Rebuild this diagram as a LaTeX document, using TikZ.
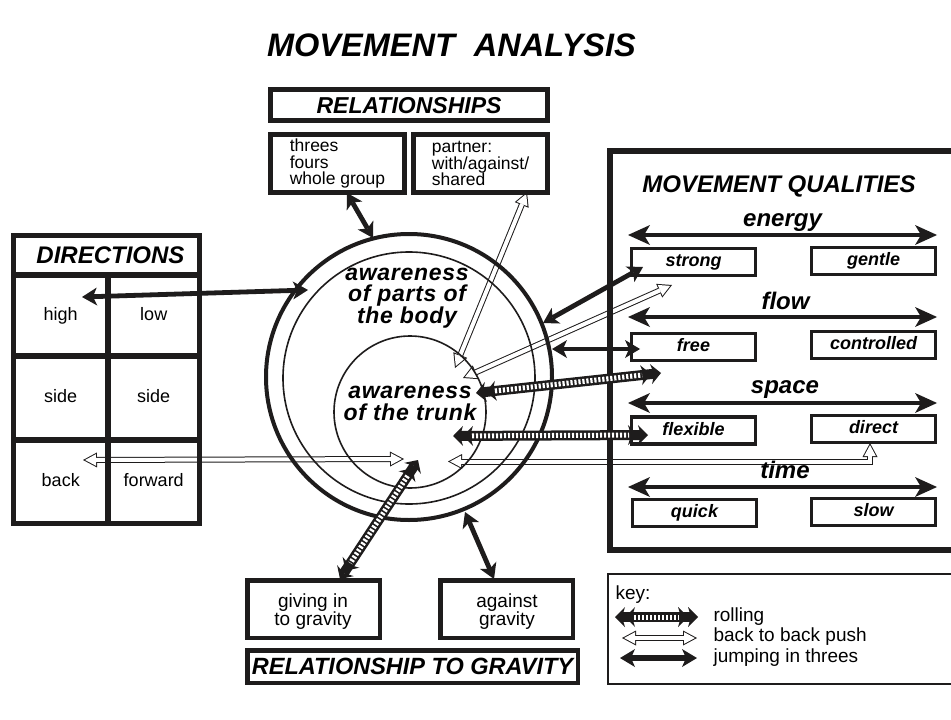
\documentclass[tikz,border=0pt]{standalone}
\usepackage{fontspec}
\setmainfont{Liberation Sans}
\newfontfamily\wideSans[LetterSpace=3]{Liberation Sans}
\usetikzlibrary{arrows.meta}
\pgfdeclarelayer{back}
\pgfsetlayers{back,main}
\definecolor{ink}{RGB}{30,28,28}
\newcommand\fBI[2]{\fontsize{#1}{#2}\selectfont\bfseries\itshape}
\newcommand\fWBI[2]{\wideSans\fontsize{#1}{#2}\selectfont\bfseries\itshape}
\newcommand\fR[2]{\fontsize{#1}{#2}\selectfont}
\tikzset{
  JumpTip/.tip={Stealth[length=15pt,width=18pt,inset=4pt,line width=0pt]},
  AxisTip/.tip={Stealth[length=22pt,width=20pt,inset=6pt,line width=0pt]},
  RollTip/.tip={Stealth[length=10pt,width=20pt,inset=3pt,line width=0pt] Stealth[length=10pt,width=20pt,inset=3pt,line width=0pt]},
  PushOut/.tip={Triangle[length=14pt,width=15pt,line width=0pt]},
  PushIn/.tip={Triangle[length=10.9pt,width=11.7pt,line width=0pt]},
  lc/.style 2 args={text height=#1, text depth=#2},
  caps/.style={text height=#1, text depth=0pt},
  box/.style={draw=ink, line width=4.5pt, inner sep=0pt, outer sep=0pt},
  cell/.style={draw=ink, line width=5.5pt, inner sep=0pt, outer sep=0pt, font=\fR{18}{18}, lc={13pt}{3.6pt}},
  qbox/.style={draw=ink, line width=3.5pt, inner sep=0pt, outer sep=0pt, minimum width=124pt, minimum height=27pt, font=\fBI{18}{18}, lc={13pt}{3.6pt}},
  qlabel/.style={font=\fBI{24}{24}, lc={17.3pt}{4.8pt}},
  keytext/.style={font=\fR{19}{19}, anchor=base west},
  jump/.style={draw=ink, line width=4.8pt, arrows={JumpTip-JumpTip}},
  axis/.style={draw=ink, line width=4.8pt, arrows={AxisTip-AxisTip}},
  rollbody/.style={draw=ink, line width=10pt, arrows={RollTip-RollTip}},
  rollstripe/.style={draw=white, line width=5pt, dash pattern=on 2.2pt off 1.8pt, shorten <=19pt, shorten >=19pt},
  pushout/.style={draw=ink, line width=6pt, line join=miter, arrows={PushOut-PushOut}},
  pushin/.style={draw=white, line width=4pt, line join=miter, shorten <=2.1pt, shorten >=2.1pt, arrows={PushIn-PushIn}},
}
\begin{document}
\begin{tikzpicture}[x=1pt,y=-1pt]
\useasboundingbox (0,0) rectangle (951,720);
\begin{pgfonlayer}{back}
\fill[white] (0,0) rectangle (951,720);
\end{pgfonlayer}

% ---------- title ----------
\node[font=\fBI{32.5}{32.5}, caps=23.3pt] (title) at (451.5,44.5) {MOVEMENT\hspace{10pt} ANALYSIS};

% ---------- relationships ----------
\node[box, minimum width=277pt, minimum height=31pt, font=\fBI{23}{23}, caps=16.5pt] (rel) at (409,105) {RELATIONSHIPS};
\node[box, minimum width=134pt, minimum height=58pt, align=left, font=\fR{17.5}{16.5}] (threes) at (337.5,163.5) {threes\\fours\\whole group};
\node[box, minimum width=134pt, minimum height=58pt, align=left, font=\fR{17.5}{16.5}] (partner) at (480.5,163.5) {partner:\\with/against/\\shared};

% ---------- directions ----------
\node[cell, minimum width=186pt, minimum height=39.5pt, font=\fBI{24}{24}, caps=17.2pt] (dirhead) at (106.5,255.25) {\hspace{8pt}DIRECTIONS};
\node[cell, minimum width=94.5pt, minimum height=81pt] (high) at (60.75,315.5) {high};
\node[cell, minimum width=91.5pt, minimum height=81pt] (low) at (153.75,315.5) {low};
\node[cell, minimum width=94.5pt, minimum height=84pt] (sideA) at (60.75,398) {side};
\node[cell, minimum width=91.5pt, minimum height=84pt] (sideB) at (153.75,398) {side};
\node[cell, minimum width=94.5pt, minimum height=83.5pt] (back) at (60.75,481.75) {back};
\node[cell, minimum width=91.5pt, minimum height=83.5pt] (forward) at (153.75,481.75) {forward};

% ---------- circles ----------
\node[circle, draw=ink, line width=4pt, minimum size=286pt, inner sep=0pt] (outer) at (409,377) {};
\node[circle, draw=ink, line width=1.6pt, minimum size=252pt, inner sep=0pt] (middle) at (409,378) {};
\node[circle, draw=ink, line width=1.6pt, minimum size=152pt, inner sep=0pt] (inner) at (410,412) {};
\node[font=\fWBI{23}{21.7}, align=center] (tbody) at (407,298) {awareness\\of parts of\\the body};
\node[font=\fWBI{23}{22}, align=center] (ttrunk) at (410,403) {awareness\\of the trunk};

% ---------- movement qualities ----------
\node[draw=ink, line width=6pt, inner sep=0pt, outer sep=0pt, minimum width=350pt, minimum height=399pt] (mq) at (785,350.5) {};
\node[font=\fBI{24}{24}, caps=17.2pt] (mqtitle) at (779,184) {MOVEMENT QUALITIES};
\node[qlabel] (energy) at (782.5,220) {energy};
\node[qlabel] (flow) at (785.5,303) {flow};
\node[qlabel] (space) at (785,387) {space};
\node[qlabel] (time) at (785,472) {time};
\node[qbox] (strong) at (693.5,262) {strong};
\node[qbox] (gentle) at (873.5,261) {gentle};
\node[qbox] (free) at (693.5,347) {free};
\node[qbox] (controlled) at (873.5,345) {controlled};
\node[qbox] (flexible) at (693.5,430.5) {flexible};
\node[qbox] (direct) at (873.5,429) {direct};
\node[qbox] (quick) at (694.5,513) {quick};
\node[qbox] (slow) at (873.5,512) {slow};

% ---------- gravity ----------
\node[box, minimum width=132.5pt, minimum height=57.5pt] (giving) at (313.5,609) {};
\node[font=\fR{19}{18}, align=center] (givingt) at (313,612) {giving in\\to gravity};
\node[box, minimum width=132.5pt, minimum height=57.5pt] (against) at (506.5,609) {};
\node[font=\fR{19}{18}, align=center] (againstt) at (507,611.5) {against\\gravity};
\node[box, minimum width=330.5pt, minimum height=32.5pt, font=\fBI{23.5}{23.5}, caps=16.8pt] (rtg) at (412.5,666.5) {RELATIONSHIP TO GRAVITY};

% ---------- key ----------
\node[draw=ink, line width=1.4pt, inner sep=0pt, minimum width=352pt, minimum height=110pt] (key) at (784,629) {};
\node[keytext] (keyt) at (612,599) {key:};
\node[keytext] (lroll) at (710,621) {rolling};
\node[keytext] (lpush) at (710,641) {back to back push};
\node[keytext] (ljump) at (710,662) {jumping in threes};

% ---------- coordinates ----------
\coordinate (j1a) at (82,297);   \coordinate (j1b) at (308,290);
\coordinate (j2a) at (347,193);  \coordinate (j2b) at (373,238);
\coordinate (j3a) at (543,323);  \coordinate (j3b) at (643,267);
\coordinate (j4a) at (552,349);  \coordinate (j4b) at (640,349);
\coordinate (j5a) at (465,512);  \coordinate (j5b) at (494,579);
\coordinate (r1a) at (476,393);  \coordinate (r1b) at (661,373);
\coordinate (r2a) at (453,436);  \coordinate (r2b) at (648,435);
\coordinate (r3a) at (418,460);  \coordinate (r3b) at (340,579);
\coordinate (p1a) at (527,192);  \coordinate (p1b) at (455,368);
\coordinate (p2a) at (463,378);  \coordinate (p2b) at (672,285);
\coordinate (p3a) at (83,460);   \coordinate (p3b) at (404,459);
\coordinate (p4a) at (870,443);  \coordinate (p4m) at (870,461.5); \coordinate (p4b) at (448,461.5);
\coordinate (eL) at (628,235); \coordinate (eR) at (937,235);
\coordinate (fL) at (628,317); \coordinate (fR) at (937,317);
\coordinate (sL) at (628,403); \coordinate (sR) at (937,403);
\coordinate (tL) at (628,487); \coordinate (tR) at (937,487);
\coordinate (kr1) at (615,617); \coordinate (kr2) at (698,617);
\coordinate (kp1) at (622,638); \coordinate (kp2) at (697,638);
\coordinate (kj1) at (620,658); \coordinate (kj2) at (697,658);

% ---------- back to back push (behind) ----------
\begin{pgfonlayer}{back}
\foreach \a/\b in {p1a/p1b, p2a/p2b, p3a/p3b, kp1/kp2}{
  \draw[pushout] (\a) -- (\b);
  \draw[pushin] (\a) -- (\b);
}
\draw[pushout] (p4a) -- (p4m) -- (p4b);
\draw[pushin] (p4a) -- (p4m) -- (p4b);
\end{pgfonlayer}

% ---------- axes ----------
\draw[axis] (eL) -- (eR);
\draw[axis] (fL) -- (fR);
\draw[axis] (sL) -- (sR);
\draw[axis] (tL) -- (tR);

% ---------- jumping in threes ----------
\foreach \a/\b in {j1a/j1b, j2a/j2b, j3a/j3b, j4a/j4b, j5a/j5b}{
  \draw[jump] (\a) -- (\b);
}
\draw[jump, line width=6.5pt] (kj1) -- (kj2);

% ---------- rolling ----------
\foreach \a/\b in {r1a/r1b, r2a/r2b, r3a/r3b, kr1/kr2}{
  \draw[rollbody] (\a) -- (\b);
  \draw[rollstripe] (\a) -- (\b);
}
\end{tikzpicture}
\end{document}
